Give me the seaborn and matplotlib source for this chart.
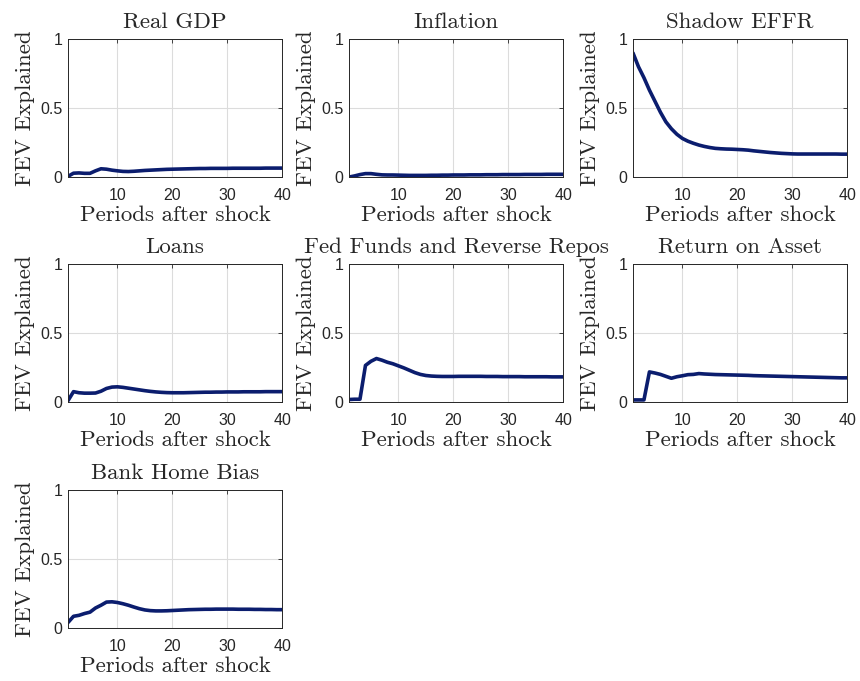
import matplotlib
matplotlib.use("Agg")
import matplotlib.pyplot as plt
import seaborn as sns
import pandas as pd
import numpy as np

periods = list(range(1, 41))

titles = ["Real GDP", "Inflation", "Shadow EFFR", "Loans",
          "Fed Funds and Reverse Repos", "Return on Asset", "Bank Home Bias"]

real_gdp = [0.005, 0.028, 0.030, 0.027, 0.027, 0.045, 0.060, 0.057, 0.050, 0.045,
            0.041, 0.040, 0.042, 0.045, 0.048, 0.050, 0.052, 0.054, 0.056, 0.057,
            0.058, 0.059, 0.060, 0.061, 0.062, 0.062, 0.063, 0.063, 0.063, 0.063,
            0.064, 0.064, 0.064, 0.064, 0.064, 0.064, 0.065, 0.065, 0.065, 0.065]

inflation = [0.000, 0.008, 0.018, 0.025, 0.025, 0.020, 0.016, 0.015, 0.015, 0.014,
             0.013, 0.012, 0.012, 0.012, 0.012, 0.013, 0.013, 0.014, 0.014, 0.015,
             0.015, 0.015, 0.016, 0.016, 0.016, 0.017, 0.017, 0.017, 0.018, 0.018,
             0.018, 0.018, 0.019, 0.019, 0.019, 0.019, 0.020, 0.020, 0.020, 0.020]

shadow_effr = [0.90, 0.80, 0.72, 0.63, 0.55, 0.47, 0.40, 0.35, 0.31, 0.28,
               0.26, 0.245, 0.232, 0.222, 0.214, 0.208, 0.205, 0.203, 0.202, 0.200,
               0.198, 0.195, 0.190, 0.186, 0.182, 0.178, 0.175, 0.172, 0.170, 0.168,
               0.167, 0.167, 0.167, 0.167, 0.167, 0.167, 0.167, 0.167, 0.166, 0.166]

loans = [0.010, 0.075, 0.067, 0.064, 0.064, 0.065, 0.078, 0.098, 0.108, 0.110,
         0.106, 0.100, 0.094, 0.088, 0.082, 0.077, 0.073, 0.070, 0.068, 0.067,
         0.067, 0.067, 0.068, 0.069, 0.070, 0.071, 0.071, 0.072, 0.072, 0.073,
         0.073, 0.073, 0.074, 0.074, 0.074, 0.074, 0.075, 0.075, 0.075, 0.075]

fed_funds = [0.018, 0.020, 0.020, 0.265, 0.295, 0.315, 0.303, 0.288, 0.277, 0.262,
             0.247, 0.230, 0.213, 0.200, 0.192, 0.188, 0.186, 0.185, 0.185, 0.185,
             0.186, 0.186, 0.186, 0.186, 0.186, 0.185, 0.185, 0.185, 0.184, 0.184,
             0.184, 0.184, 0.183, 0.183, 0.183, 0.183, 0.183, 0.182, 0.182, 0.182]

return_on_asset = [0.015, 0.015, 0.015, 0.218, 0.210, 0.200, 0.186, 0.172, 0.183, 0.190,
                   0.198, 0.200, 0.206, 0.203, 0.201, 0.199, 0.198, 0.197, 0.196, 0.195,
                   0.194, 0.193, 0.191, 0.190, 0.189, 0.188, 0.187, 0.186, 0.185, 0.184,
                   0.183, 0.182, 0.181, 0.180, 0.179, 0.178, 0.177, 0.176, 0.175, 0.175]

bank_home_bias = [0.040, 0.085, 0.092, 0.105, 0.115, 0.145, 0.165, 0.188, 0.190, 0.185,
                  0.176, 0.165, 0.152, 0.140, 0.131, 0.126, 0.124, 0.124, 0.125, 0.127,
                  0.129, 0.131, 0.133, 0.134, 0.135, 0.136, 0.136, 0.137, 0.137, 0.137,
                  0.137, 0.136, 0.136, 0.136, 0.135, 0.135, 0.134, 0.134, 0.133, 0.133]

series = [real_gdp, inflation, shadow_effr, loans, fed_funds, return_on_asset, bank_home_bias]

x_ticks = [10, 20, 30, 40]
y_ticks = [0, 0.5, 1]
y_tick_labels = ["0", "0.5", "1"]

sns.set_style("white")
plt.rcParams["axes.formatter.use_mathtext"] = True

line_color = "#0b1d6e"
serif = "cmr10"
sans = "Liberation Sans"

fig = plt.figure(figsize=(8.6, 6.81), dpi=100)

col_left = [0.0791, 0.4058, 0.7360]
row_bottom = [0.7400, 0.4097, 0.0778]
ax_w, ax_h = 0.2490, 0.2026

for i, (title, vals) in enumerate(zip(titles, series)):
    r, c = divmod(i, 3)
    ax = fig.add_axes([col_left[c], row_bottom[r], ax_w, ax_h])
    df = pd.DataFrame({"period": periods, "fev": vals})
    sns.lineplot(data=df, x="period", y="fev", ax=ax, color=line_color,
                 linewidth=2.6, solid_joinstyle="round", solid_capstyle="round")
    ax.set_xlim(1, 40)
    ax.set_ylim(0, 1)
    ax.set_xticks(x_ticks)
    ax.set_xticklabels([str(t) for t in x_ticks], family=sans, fontsize=11.5, color="#262626")
    ax.set_yticks(y_ticks)
    ax.set_yticklabels(y_tick_labels, family=sans, fontsize=11.5, color="#262626")
    ax.grid(True, color="#dcdcdc", linewidth=0.8)
    ax.set_axisbelow(True)
    ax.tick_params(direction="in", length=3, width=0.6, top=True, right=True,
                   color="#262626")
    ax.tick_params(axis="x", pad=8)
    ax.tick_params(axis="y", pad=4)
    for s in ax.spines.values():
        s.set_visible(True)
        s.set_color("#262626")
        s.set_linewidth(0.7)
    ax.set_title(title, family=serif, fontsize=16.5, pad=8)
    ax.set_xlabel("Periods after shock", family=serif, fontsize=16.5, labelpad=2)
    ax.set_ylabel("FEV Explained", family=serif, fontsize=16.5, labelpad=4)

fig.savefig("out.png", dpi=100, facecolor="white")
